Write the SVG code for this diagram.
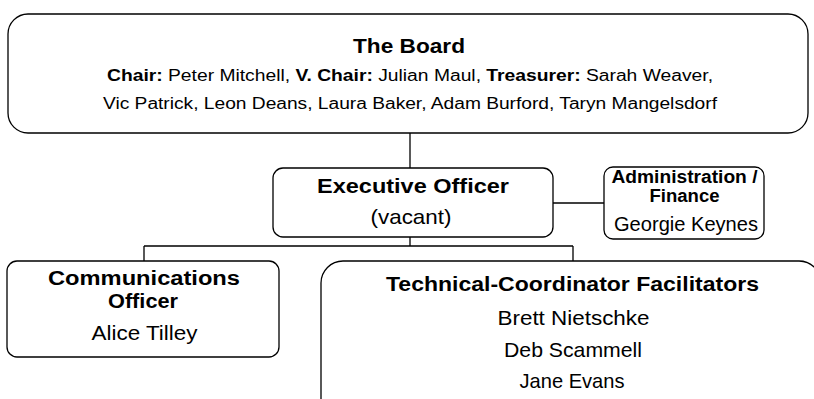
<svg xmlns="http://www.w3.org/2000/svg" width="814" height="399" viewBox="0 0 814 399">
<style>
.box{fill:#fff;stroke:#000;stroke-width:1.3}
.ln{fill:none;stroke:#000;stroke-width:1.3}
text{font-family:"Liberation Sans",Arial,sans-serif;fill:#000;text-anchor:middle}
.h{font-weight:bold;font-size:21px}
.t{font-size:21px}
.s{font-size:16px}
.ah{font-weight:bold;font-size:18px}
.at{font-size:19.5px}
</style>
<rect width="814" height="399" fill="#fff"/>
<g id="connectors">
<path class="ln" d="M410 133V168"/>
<path class="ln" d="M553 203H604"/>
<path class="ln" d="M410 237V246M144 246H573M144 246V261M573 246V261"/>
</g>
<g id="board">
<rect class="box" x="8" y="14" width="800" height="119" rx="20"/>
<text class="h" x="409" y="53" textLength="112" lengthAdjust="spacingAndGlyphs">The Board</text>
<text class="s" x="410" y="81" textLength="606" lengthAdjust="spacingAndGlyphs"><tspan font-weight="bold">Chair:</tspan> Peter Mitchell, <tspan font-weight="bold">V. Chair:</tspan> Julian Maul, <tspan font-weight="bold">Treasurer:</tspan> Sarah Weaver,</text>
<text class="s" x="410" y="109" textLength="614" lengthAdjust="spacingAndGlyphs">Vic Patrick, Leon Deans, Laura Baker, Adam Burford, Taryn Mangelsdorf</text>
</g>
<g id="exec">
<rect class="box" x="273" y="168" width="280" height="69" rx="10"/>
<text class="h" x="413" y="193" textLength="192" lengthAdjust="spacingAndGlyphs">Executive Officer</text>
<text class="t" x="411" y="224" textLength="81" lengthAdjust="spacingAndGlyphs">(vacant)</text>
</g>
<g id="admin">
<rect class="box" x="604" y="167" width="160" height="72" rx="9"/>
<text class="ah" x="684.5" y="183" textLength="146" lengthAdjust="spacingAndGlyphs">Administration /</text>
<text class="ah" x="684.5" y="202" textLength="70" lengthAdjust="spacingAndGlyphs">Finance</text>
<text class="at" x="686" y="231" textLength="144" lengthAdjust="spacingAndGlyphs">Georgie Keynes</text>
</g>
<g id="comm">
<rect class="box" x="7" y="261" width="272" height="96" rx="10"/>
<text class="h" x="144" y="285" style="font-size:20px" textLength="192" lengthAdjust="spacingAndGlyphs">Communications</text>
<text class="h" x="143" y="308" style="font-size:20px" textLength="70" lengthAdjust="spacingAndGlyphs">Officer</text>
<text class="t" x="144.5" y="340" textLength="106" lengthAdjust="spacingAndGlyphs">Alice Tilley</text>
</g>
<g id="tech">
<rect class="box" x="321" y="261" width="500" height="160" rx="22"/>
<text class="h" x="572.5" y="291" textLength="373" lengthAdjust="spacingAndGlyphs">Technical-Coordinator Facilitators</text>
<text class="t" x="573.5" y="325" textLength="152" lengthAdjust="spacingAndGlyphs">Brett Nietschke</text>
<text class="t" x="573" y="357" textLength="138" lengthAdjust="spacingAndGlyphs">Deb Scammell</text>
<text class="t" x="572" y="388" textLength="105" lengthAdjust="spacingAndGlyphs">Jane Evans</text>
</g>
</svg>
